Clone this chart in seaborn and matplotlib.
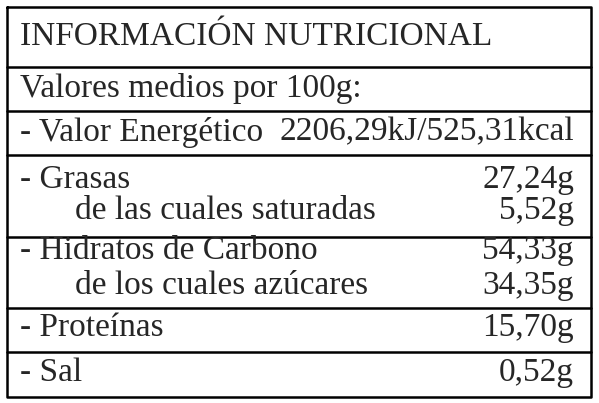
import matplotlib
matplotlib.use("Agg")
import matplotlib.pyplot as plt
import seaborn as sns

sns.set_style("white")
plt.rcParams['font.family'] = ['Liberation Serif', 'DejaVu Serif']

title = "INFORMACIÓN NUTRICIONAL"
subtitle = "Valores medios por 100g:"
energy_label = "- Valor Energético"
energy_value = "2206,29kJ/525,31kcal"
labels = ["- Grasas", "de las cuales saturadas", "- Hidratos de Carbono",
          "de los cuales azúcares", "- Proteínas", "- Sal"]
values = ["27,24g", "5,52g", "54,33g", "34,35g", "15,70g", "0,52g"]
indent = [False, True, False, True, False, False]
row_y = [180, 211, 251, 286, 328, 373]
line_y = [67, 111, 155, 237, 308, 352]

fig = plt.figure(figsize=(5.99, 4.03), dpi=100)
ax = fig.add_axes([0, 0, 1, 1])
ax.set_xlim(0, 599); ax.set_ylim(403, 0); ax.axis("off")

ax.plot([7, 591, 591, 7, 7], [7, 7, 397, 397, 7], color="black", lw=1.8)
for y in line_y:
    ax.plot([7, 591], [y, y], color="black", lw=1.8)

fs = 24
ax.text(20, 37, title, fontsize=fs, va="center", ha="left")
ax.text(20, 89, subtitle, fontsize=fs, va="center", ha="left")
ax.text(20, 132, energy_label, fontsize=fs, va="center", ha="left")
ax.text(574, 132, energy_value, fontsize=fs, va="center", ha="right")
for lab, val, ind, y in zip(labels, values, indent, row_y):
    ax.text(75 if ind else 20, y, lab, fontsize=fs, va="center", ha="left")
    ax.text(574, y, val, fontsize=fs, va="center", ha="right")

fig.savefig("out.png", dpi=100)
